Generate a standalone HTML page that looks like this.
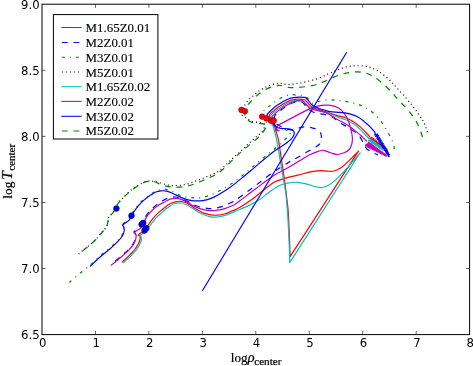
<!DOCTYPE html>
<html><head><meta charset="utf-8"><title>log T center vs log rho center</title>
<style>html,body{margin:0;padding:0;background:#fff}svg{display:block}</style></head>
<body>
<svg width="473" height="366" viewBox="0 0 473 366">
<rect width="473" height="366" fill="#fff"/>
<g fill="none" stroke-width="1.2" stroke-linejoin="round">
<path d="M121.7 262.4C122.5 261.7 125.0 259.6 126.5 258.2C128.0 256.8 129.2 255.6 130.6 254.1C132.0 252.6 133.8 250.7 135.1 249.0C136.4 247.3 137.6 245.4 138.4 243.8C139.2 242.2 139.7 240.7 140.0 239.5C140.3 238.3 140.1 237.1 140.1 236.6C139.9 236.4 139.5 235.8 139.2 235.6C138.8 235.4 138.2 235.3 138.0 235.2C138.5 234.8 139.7 233.8 140.8 233.0C141.9 232.2 143.4 231.8 144.8 230.3C146.2 228.8 147.4 226.0 149.0 223.8C150.6 221.6 152.3 219.2 154.1 217.1C155.9 215.0 158.2 213.1 160.0 211.4C161.8 209.8 163.4 208.5 165.1 207.2C166.8 205.9 168.4 204.7 170.1 203.8C171.8 202.9 173.5 202.2 175.2 201.8C176.9 201.4 178.6 201.2 180.3 201.3C182.0 201.4 183.7 201.8 185.4 202.5C187.1 203.2 188.4 204.0 190.4 205.2C192.4 206.4 194.9 208.4 197.2 209.7C199.5 211.0 201.8 212.2 204.0 213.1C206.2 213.9 208.4 214.5 210.7 214.8C212.9 215.2 215.2 215.3 217.5 215.2C219.8 215.1 222.1 214.6 224.3 214.0C226.6 213.4 228.4 212.5 231.0 211.4C233.6 210.3 236.7 209.1 240.0 207.2C243.3 205.3 247.1 202.9 251.1 200.0C255.1 197.1 260.0 192.8 263.8 189.9C267.6 187.0 270.3 184.3 274.0 182.3C277.7 180.3 281.9 179.3 285.8 178.1C289.8 176.9 293.6 176.2 297.7 175.2C301.8 174.2 306.5 172.7 310.3 171.9C314.1 171.1 317.6 170.7 320.4 170.6C323.2 170.5 324.9 171.1 327.2 171.2C329.5 171.3 331.8 171.5 334.0 171.0C336.2 170.5 338.4 169.6 340.7 168.1C342.9 166.6 345.2 164.2 347.5 162.1C349.8 160.0 352.5 157.2 354.3 155.4C356.1 153.6 357.8 151.8 358.5 151.1L290.1 256.7C290.0 252.9 289.6 241.2 289.3 233.7C289.0 226.2 288.6 217.5 288.2 211.9C287.8 206.3 287.6 205.3 287.0 200.0C286.4 194.7 285.4 186.7 284.5 180.0C283.6 173.3 282.5 166.7 281.5 160.0C280.5 153.3 279.3 144.4 278.5 140.0C277.7 135.6 277.3 135.7 276.6 133.4C275.9 131.1 275.2 128.2 274.3 126.0C273.4 123.8 272.0 121.4 271.5 120.5C271.1 119.5 268.9 116.5 269.4 114.8C269.9 113.1 272.9 111.6 274.7 110.1C276.5 108.6 278.2 107.1 280.0 105.9C281.8 104.7 283.6 103.6 285.3 102.7C287.1 101.8 288.8 101.0 290.5 100.4C292.2 99.8 294.0 99.5 295.8 99.3C297.6 99.1 299.6 99.2 301.1 99.3C302.6 99.4 303.7 99.4 304.8 100.0C305.9 100.6 306.5 101.7 307.5 102.7C308.5 103.7 309.6 105.1 310.6 105.9C311.6 106.8 311.3 106.9 313.5 107.8C315.7 108.7 320.9 110.2 323.7 111.1C326.4 112.0 327.6 112.6 330.0 113.4C332.4 114.2 335.3 115.1 337.9 115.8C340.5 116.5 343.1 116.8 345.7 117.8C348.3 118.8 351.1 120.2 353.6 121.7C356.1 123.2 358.4 125.2 360.5 127.1C362.6 129.0 364.8 131.3 366.4 133.0C368.0 134.7 369.4 136.5 370.0 137.2" stroke="#ff0000"/>
<polyline points="370.0,137.2 370.0,138.8 372.3,137.3 371.5,139.9 373.7,138.5 373.0,141.0 375.2,139.6 374.6,142.0 376.7,140.8 376.1,143.1 378.2,141.9 377.6,144.2 379.6,143.1 379.1,145.3 381.1,144.2 380.7,146.4 382.6,145.4 382.2,147.5 384.1,146.5 383.7,148.5 385.5,147.7 385.2,149.6 387.0,148.8 386.8,150.7 388.0,150.6" stroke="#ff0000"/>
<path d="M110.5 264.8C111.4 264.1 114.2 261.9 116.0 260.5C117.8 259.1 119.7 257.4 121.2 256.1C122.7 254.8 123.7 254.0 125.0 252.8C126.3 251.7 127.5 250.6 128.8 249.2C130.1 247.8 131.9 245.8 133.0 244.1C134.1 242.4 134.8 240.6 135.3 239.0C135.8 237.4 135.8 235.5 135.9 234.8C135.7 234.5 135.2 233.5 134.8 233.0C134.5 232.5 134.0 232.2 133.8 232.0C134.2 231.6 135.3 230.5 136.4 229.7C137.5 228.9 139.4 228.2 140.4 227.2C141.4 226.2 141.3 225.5 142.3 223.5C143.3 221.5 144.7 217.9 146.3 215.4C148.0 212.9 150.1 210.6 152.2 208.5C154.3 206.4 157.1 204.3 159.0 203.0C160.9 201.7 161.8 201.2 163.4 200.4C165.0 199.6 166.6 198.5 168.5 197.9C170.4 197.3 172.8 196.8 175.0 197.0C177.2 197.2 179.7 198.2 182.0 199.1C184.3 199.9 186.6 201.0 188.8 202.1C191.1 203.2 193.2 204.6 195.5 205.5C197.8 206.4 200.1 207.0 202.3 207.5C204.6 208.0 206.8 208.5 209.0 208.6C211.2 208.7 213.5 208.5 215.8 208.1C218.1 207.7 220.3 207.2 222.6 206.4C224.8 205.6 227.1 204.6 229.3 203.5C231.6 202.4 234.4 201.1 236.1 200.1C237.8 199.1 236.1 199.9 239.3 197.5C242.5 195.1 249.9 189.8 255.4 185.7C260.9 181.6 266.7 176.9 272.3 173.0C277.9 169.1 284.8 164.7 289.2 162.0C293.6 159.3 295.3 158.9 298.5 157.1C301.7 155.3 305.5 152.9 308.6 151.1C311.7 149.3 315.1 147.5 317.1 146.1C319.1 144.7 319.7 144.2 320.4 142.7C321.1 141.1 321.4 138.5 321.4 136.8C321.4 135.1 321.1 133.7 320.4 132.5C319.6 131.3 318.3 130.4 316.9 129.6C315.5 128.8 313.6 128.2 312.0 127.8C310.4 127.3 308.7 127.0 307.0 126.9C305.3 126.8 303.7 126.8 302.0 127.1C300.3 127.4 298.8 128.1 297.0 128.6C295.2 129.1 293.0 129.9 291.0 129.8C289.0 129.8 287.0 129.0 285.0 128.3C283.0 127.6 280.6 126.4 279.0 125.5C277.4 124.6 276.4 123.8 275.5 123.0C274.6 122.2 274.1 121.1 273.8 120.7C273.9 119.9 274.0 117.3 274.7 115.9C275.4 114.5 276.9 113.5 278.0 112.5C279.1 111.5 280.3 110.6 281.6 109.6C282.9 108.6 284.5 107.3 286.0 106.3C287.5 105.3 289.0 104.4 290.5 103.7C292.0 103.0 293.5 102.5 295.0 102.2C296.5 101.9 298.2 101.8 299.5 101.8C300.8 101.8 301.6 102.0 302.5 102.5C303.4 103.0 304.1 104.0 305.0 105.0C305.9 106.0 307.0 107.5 308.0 108.5C309.0 109.5 309.5 110.2 311.0 111.0C312.5 111.8 314.7 113.0 316.9 113.5C319.1 114.0 321.6 113.8 324.0 114.3C326.4 114.8 328.9 115.1 331.5 116.5C334.1 117.9 336.8 120.5 339.8 122.5C342.8 124.5 346.6 126.5 349.7 128.6C352.8 130.7 356.1 132.4 358.5 135.0C360.9 137.6 362.5 141.7 363.9 144.1C365.3 146.5 365.6 147.8 367.1 149.2C368.6 150.6 370.9 151.5 372.7 152.5C374.5 153.5 377.1 154.6 378.0 155.0" stroke="#0000ff" stroke-dasharray="5.8 5.8" stroke-dashoffset="5.8"/>
<path d="M69.4 282.5C70.8 281.3 74.7 277.8 77.5 275.4C80.3 273.0 84.1 270.1 86.4 268.2C88.7 266.3 88.9 266.4 91.2 264.3C93.5 262.2 97.3 258.4 100.4 255.7C103.5 253.0 106.9 250.5 109.6 248.2C112.3 245.9 114.5 243.7 116.4 241.8C118.3 239.9 119.7 238.4 120.8 236.9C121.9 235.4 122.6 234.0 123.1 232.7C123.6 231.5 123.7 230.0 123.8 229.4C123.7 228.9 123.6 227.5 123.3 226.6C123.0 225.7 122.1 224.6 121.9 224.2C122.4 223.9 123.7 223.3 124.9 222.4C126.1 221.5 128.0 220.2 129.1 219.0C130.2 217.8 130.8 216.7 131.5 215.4C132.2 214.1 132.3 213.1 133.3 211.4C134.3 209.8 135.9 207.5 137.6 205.5C139.3 203.5 141.4 201.3 143.5 199.5C145.6 197.7 148.2 195.8 150.2 194.5C152.2 193.2 153.6 192.2 155.3 191.4C157.0 190.6 158.6 189.9 160.4 189.6C162.2 189.3 164.2 189.1 166.3 189.4C168.4 189.8 170.8 190.7 173.0 191.7C175.2 192.7 177.5 194.3 179.8 195.2C182.1 196.1 184.3 196.7 186.6 197.1C188.8 197.5 191.1 197.7 193.3 197.8C195.6 197.9 197.8 198.0 200.1 197.7C202.4 197.5 204.7 197.0 206.9 196.3C209.2 195.6 211.3 194.7 213.6 193.7C215.8 192.7 218.1 191.6 220.4 190.3C222.7 189.0 224.9 187.4 227.2 186.1C229.4 184.8 231.5 183.9 233.9 182.2C236.3 180.5 239.1 178.2 241.8 176.0C244.5 173.8 247.4 171.6 250.2 169.2C253.0 166.8 255.9 164.2 258.7 161.8C261.5 159.4 264.7 156.9 267.2 154.8C269.7 152.8 271.8 151.3 273.9 149.5C276.0 147.7 277.9 145.9 279.9 144.2C281.8 142.5 284.0 140.7 285.6 139.1C287.2 137.5 288.6 135.9 289.5 134.7C290.4 133.6 290.5 132.6 290.7 132.2C290.4 132.0 289.8 131.6 289.0 131.2C288.2 130.8 287.1 130.5 286.0 130.0C284.9 129.5 284.1 129.0 282.3 128.3C280.5 127.6 277.4 126.8 275.0 126.0C272.6 125.2 269.8 124.3 268.0 123.3C266.2 122.3 265.0 121.1 264.0 120.0C263.0 118.9 262.3 117.2 262.0 116.6C262.1 115.9 261.9 113.6 262.6 112.3C263.3 111.0 264.8 109.8 266.2 108.5C267.6 107.2 269.6 106.0 271.3 104.7C273.0 103.4 274.3 102.3 276.4 100.9C278.5 99.5 281.4 97.5 283.8 96.5C286.2 95.5 288.4 94.8 290.6 94.6C292.8 94.4 294.9 95.0 297.0 95.2C299.1 95.4 301.3 95.6 303.0 96.0C304.7 96.4 305.8 96.7 307.0 97.5C308.2 98.3 309.1 100.0 310.0 101.0C310.9 102.0 311.4 103.1 312.7 103.2C314.0 103.3 315.9 102.0 318.0 101.5C320.1 101.0 323.1 100.4 325.4 100.1C327.7 99.8 329.8 99.8 332.0 99.9C334.2 100.0 336.7 100.3 338.9 100.5C341.1 100.7 342.8 100.9 345.0 101.3C347.2 101.7 350.2 102.2 352.4 102.7C354.6 103.2 356.0 103.8 358.0 104.5C360.0 105.2 362.3 105.9 364.3 106.9C366.3 107.9 368.1 109.2 370.0 110.5C371.9 111.8 373.7 113.3 375.4 115.0C377.1 116.7 378.9 118.8 380.4 120.7C381.9 122.6 383.0 124.4 384.3 126.4C385.6 128.4 387.0 130.8 388.1 132.8C389.2 134.8 390.3 136.5 391.2 138.5C392.1 140.5 393.1 142.9 393.6 144.8C394.1 146.7 394.3 149.1 394.4 149.9" stroke="#008000" stroke-dasharray="3 5 1 5"/>
<path d="M78.7 254.0C79.6 253.2 82.2 250.9 84.0 249.5C85.8 248.1 87.6 246.7 89.2 245.4C90.8 244.1 92.0 242.9 93.5 241.5C95.0 240.1 96.7 238.6 98.0 237.1C99.3 235.6 100.5 233.9 101.6 232.6C102.7 231.3 103.9 230.4 104.8 229.2C105.7 228.0 106.5 226.8 107.0 225.4C107.5 224.0 107.8 221.9 108.1 220.5C108.4 219.1 108.3 217.8 108.8 216.8C109.3 215.8 110.4 215.2 111.2 214.3C112.0 213.4 113.0 212.6 113.8 211.2C114.6 209.8 115.4 207.5 116.3 206.0C117.2 204.5 118.0 203.2 119.0 202.0C120.0 200.8 120.9 200.0 122.0 198.9C123.1 197.8 124.3 196.4 125.4 195.3C126.5 194.2 127.7 193.1 128.8 192.1C129.9 191.1 130.9 190.3 132.0 189.5C133.1 188.7 134.3 187.9 135.5 187.1C136.7 186.3 137.9 185.5 139.0 184.8C140.1 184.1 141.2 183.4 142.3 182.9C143.4 182.4 144.4 181.9 145.5 181.6C146.6 181.3 147.8 181.2 149.0 181.1C150.2 181.0 151.4 181.1 152.5 181.2C153.6 181.3 154.6 181.6 155.8 181.8C157.1 182.1 157.9 182.1 160.0 182.7C162.1 183.3 165.7 184.7 168.5 185.2C171.3 185.7 174.1 185.7 176.9 185.6C179.7 185.5 182.6 185.0 185.4 184.4C188.2 183.8 191.0 182.8 193.8 181.8C196.6 180.8 199.5 179.6 202.3 178.5C205.1 177.4 208.0 176.3 210.7 175.1C213.4 173.9 215.9 173.0 218.4 171.4C220.9 169.8 223.1 167.4 225.4 165.3C227.7 163.2 230.2 160.6 232.4 158.6C234.6 156.6 236.7 154.7 238.5 153.1C240.3 151.5 242.0 150.1 243.4 148.8C244.8 147.5 245.8 146.3 247.1 145.1C248.4 143.9 250.1 142.6 251.4 141.4C252.7 140.2 253.9 138.8 255.1 137.7C256.3 136.6 257.7 135.7 258.8 134.7C259.9 133.7 261.1 132.5 261.9 131.6C262.7 130.7 263.2 130.1 263.7 129.1C264.1 128.1 264.7 126.8 264.6 125.8C264.5 124.8 264.2 123.7 263.1 123.2C262.0 122.7 260.1 122.9 258.2 122.6C256.2 122.2 253.2 121.8 251.4 121.1C249.7 120.4 248.8 119.4 247.7 118.7C246.6 118.0 245.6 117.4 244.7 116.8C243.8 116.2 242.9 116.1 242.2 115.3C241.5 114.5 240.7 112.9 240.6 112.0C240.5 111.1 240.8 110.9 241.5 109.8C242.2 108.7 243.6 106.8 244.7 105.3C245.8 103.8 246.8 101.9 247.9 100.6C249.0 99.3 249.9 98.6 251.0 97.7C252.1 96.8 252.9 96.3 254.2 95.3C255.4 94.2 256.4 92.9 258.5 91.4C260.6 89.9 264.1 87.7 266.9 86.4C269.7 85.1 273.1 84.3 275.4 83.8C277.6 83.3 278.4 83.2 280.4 83.3C282.4 83.4 284.6 84.4 287.2 84.5C289.8 84.6 292.6 84.2 295.7 83.8C298.8 83.3 302.1 82.7 305.8 81.8C309.5 80.9 313.9 79.9 317.7 78.6C321.5 77.3 325.3 75.2 328.5 73.8C331.7 72.4 334.1 71.2 336.9 70.1C339.7 69.0 342.6 67.8 345.4 67.1C348.2 66.4 351.0 66.1 353.8 65.9C356.6 65.7 359.5 65.7 362.3 65.9C365.1 66.2 368.2 66.6 370.7 67.4C373.2 68.2 375.2 69.5 377.5 70.8C379.8 72.1 382.1 73.7 384.3 75.5C386.6 77.3 389.0 79.4 391.0 81.4C393.0 83.4 394.1 84.9 396.4 87.4C398.7 89.9 401.9 93.3 404.6 96.4C407.3 99.5 410.4 103.1 412.8 106.2C415.2 109.3 417.4 112.3 419.3 115.2C421.2 118.1 422.9 120.5 424.3 123.4C425.7 126.3 427.0 131.0 427.5 132.5" stroke="#000000" stroke-dasharray="1 3"/>
<path d="M123.0 263.1C123.8 262.4 126.3 260.3 127.8 258.9C129.3 257.5 130.5 256.3 131.9 254.8C133.3 253.3 135.1 251.4 136.4 249.7C137.7 248.0 138.9 246.1 139.7 244.5C140.5 242.9 141.0 241.4 141.3 240.2C141.6 239.0 141.4 237.8 141.4 237.3C141.2 237.1 140.8 236.5 140.5 236.3C140.2 236.1 139.5 236.0 139.3 235.9L139.3 235.9C139.8 235.6 140.9 234.8 142.0 234.0C143.1 233.2 144.6 232.8 146.0 231.3C147.4 229.8 148.9 227.0 150.5 224.8C152.1 222.6 154.0 220.1 155.6 218.3C157.2 216.6 158.4 215.7 160.0 214.3C161.6 212.9 163.4 211.1 165.1 209.7C166.8 208.3 168.4 206.9 170.1 205.9C171.8 204.9 173.5 204.0 175.2 203.5C176.9 203.0 178.6 202.9 180.3 203.0C182.0 203.1 183.7 203.5 185.4 204.2C187.1 204.8 188.4 205.7 190.4 206.9C192.4 208.1 194.9 210.1 197.2 211.4C199.5 212.7 201.8 213.9 204.0 214.8C206.2 215.7 208.4 216.4 210.7 216.8C212.9 217.2 215.2 217.2 217.5 217.0C219.8 216.8 222.1 216.3 224.3 215.7C226.6 215.0 228.4 214.2 231.0 213.1C233.6 212.0 236.8 210.5 240.0 209.2C243.2 207.8 246.7 206.6 250.0 205.0C253.3 203.4 256.5 201.7 259.6 199.6C262.8 197.5 265.7 194.7 268.9 192.4C272.1 190.1 275.9 187.2 279.0 185.7C282.1 184.1 284.4 183.7 287.5 183.1C290.6 182.5 294.5 182.1 297.7 182.3C300.9 182.5 303.9 183.4 306.9 184.1C309.8 184.8 312.9 186.1 315.4 186.7C317.9 187.3 319.9 187.8 322.1 187.5C324.4 187.2 326.6 186.3 328.9 185.0C331.2 183.7 333.4 181.9 335.7 179.9C337.9 177.9 339.9 175.8 342.4 173.1C344.9 170.4 347.9 167.2 350.9 163.8C353.9 160.4 358.6 154.6 360.2 152.8L289.7 262.6C289.6 259.6 289.5 252.0 289.2 244.6C288.9 237.2 288.4 226.1 287.9 218.4C287.4 210.8 286.8 203.4 286.4 198.7C286.0 194.0 286.2 195.6 285.3 190.0C284.4 184.4 282.4 173.3 281.0 165.0C279.6 156.7 277.8 145.7 276.7 140.0C275.6 134.3 275.2 133.7 274.5 131.0C273.8 128.3 272.7 125.2 272.3 124.0C272.1 122.6 270.3 117.6 271.0 115.4C271.7 113.2 274.5 112.0 276.3 110.6C278.1 109.1 279.9 107.9 281.6 106.7C283.4 105.5 285.1 104.4 286.8 103.5C288.6 102.6 290.4 101.9 292.1 101.4C293.8 100.9 295.2 100.5 296.9 100.4C298.6 100.3 301.0 100.3 302.2 100.6C303.4 100.9 303.5 101.5 304.3 102.2C305.1 102.9 306.0 104.1 307.0 105.0C308.0 105.9 308.9 106.9 310.5 107.8C312.1 108.7 314.7 109.6 316.9 110.3C319.1 111.0 321.3 111.4 323.5 112.0C325.7 112.6 327.6 112.9 330.0 113.8C332.4 114.7 335.3 116.3 337.9 117.3C340.5 118.3 343.1 118.6 345.7 119.7C348.3 120.8 351.1 122.1 353.6 123.7C356.1 125.3 358.5 127.7 360.5 129.6C362.5 131.5 364.0 133.5 365.4 135.0C366.8 136.5 368.4 138.0 369.0 138.6" stroke="#00bfbf"/>
<polyline points="369.0,139.4 368.7,141.1 371.2,139.1 370.1,142.0 372.5,140.2 371.5,142.9 373.8,141.2 372.8,143.8 375.0,142.2 374.2,144.7 376.3,143.3 375.6,145.6 377.6,144.3 376.9,146.5 378.8,145.3 378.3,147.4 380.1,146.3 379.7,148.3 381.4,147.4 381.0,149.2 382.6,148.4 382.4,150.1 383.5,150.0" stroke="#00bfbf"/>
<path d="M110.8 265.4C111.7 264.7 114.5 262.6 116.3 261.1C118.1 259.7 120.0 258.0 121.5 256.7C123.0 255.4 124.0 254.6 125.3 253.4C126.6 252.2 127.8 251.2 129.1 249.8C130.4 248.3 132.2 246.4 133.3 244.7C134.4 243.0 135.1 241.1 135.6 239.6C136.1 238.1 136.1 236.1 136.2 235.4L136.2 235.4C136.0 235.1 135.5 234.2 135.2 233.8C134.9 233.4 134.5 233.0 134.3 232.8C134.7 232.4 135.7 231.3 136.8 230.5C137.9 229.7 139.7 229.1 140.8 228.1C141.9 227.1 142.2 226.2 143.2 224.3C144.2 222.4 145.3 218.8 146.9 216.4C148.5 214.0 150.7 211.7 152.8 209.7C154.9 207.7 157.6 205.9 159.6 204.6C161.6 203.3 163.3 202.7 165.1 201.8C166.8 200.9 168.4 199.7 170.1 199.1C171.8 198.5 173.5 198.4 175.2 198.4C176.9 198.4 178.3 198.5 180.3 199.1C182.3 199.7 184.8 201.0 187.1 202.1C189.3 203.2 191.6 204.8 193.8 205.9C196.1 207.0 198.3 208.2 200.6 208.9C202.9 209.6 205.2 210.0 207.4 210.3C209.7 210.6 211.8 210.7 214.1 210.6C216.3 210.5 218.6 210.2 220.9 209.7C223.2 209.2 225.4 208.3 227.7 207.5C229.9 206.7 232.3 205.8 234.4 204.7C236.5 203.5 236.6 203.2 240.1 200.6C243.6 198.0 250.0 193.0 255.4 189.0C260.8 185.0 266.7 180.1 272.3 176.4C277.9 172.8 284.6 169.8 289.2 167.1C293.8 164.4 296.6 162.5 300.1 160.4C303.6 158.3 307.2 156.1 310.3 154.5C313.4 152.9 316.6 151.8 318.8 151.1C321.1 150.4 321.8 150.0 323.8 150.3C325.8 150.6 328.3 152.1 330.6 152.8C332.9 153.5 335.1 154.5 337.4 154.5C339.6 154.5 342.1 153.6 344.1 152.8C346.1 152.0 347.9 150.9 349.2 149.5C350.5 148.1 351.2 146.2 351.7 144.4C352.2 142.7 352.4 140.7 352.4 139.0C352.4 137.3 352.2 135.7 351.9 134.0C351.6 132.3 351.3 131.2 350.7 128.9C350.1 126.6 349.3 123.0 348.2 120.4C347.1 117.8 345.6 115.3 344.0 113.2C342.4 111.1 340.8 109.3 338.6 108.0C336.4 106.7 333.5 105.7 330.6 105.3C327.8 104.9 324.6 105.0 321.5 105.4C318.4 105.8 315.5 106.5 311.9 107.9C308.3 109.3 302.0 112.6 300.0 113.6L277.9 125.4C277.5 126.0 275.8 128.0 275.6 128.8C275.5 129.6 276.4 130.1 277.0 130.4C277.6 130.7 278.8 130.7 279.2 130.8C278.8 130.5 277.5 130.1 276.8 129.0C276.1 127.9 275.4 125.7 274.8 124.3C274.2 122.9 273.4 121.9 273.0 120.7C272.6 119.5 272.3 117.6 272.2 117.0C272.3 116.8 271.7 116.9 272.6 115.9C273.6 114.9 276.1 112.5 277.9 111.1C279.6 109.7 281.4 108.5 283.1 107.4C284.9 106.3 286.6 105.2 288.4 104.3C290.2 103.4 291.9 102.4 293.7 101.8C295.5 101.2 297.5 100.9 299.0 100.8C300.5 100.7 301.7 100.7 302.7 101.1C303.7 101.5 304.0 102.4 304.8 103.2C305.6 104.0 306.6 105.0 307.5 105.9C308.4 106.8 308.9 107.8 310.1 108.5C311.4 109.2 313.0 109.3 315.0 109.8C317.0 110.3 319.5 110.7 322.0 111.5C324.5 112.3 327.7 113.6 330.0 114.8C332.3 116.0 333.8 117.6 335.9 118.8C338.0 120.0 340.5 120.9 342.8 122.2C345.1 123.5 347.6 125.1 349.7 126.6C351.8 128.1 353.6 129.5 355.6 131.1C357.6 132.7 360.0 134.7 361.5 136.0C363.0 137.3 363.5 138.0 364.4 138.9C365.3 139.8 366.6 140.9 367.0 141.3" stroke="#bf00bf"/>
<polyline points="366.4,143.6 365.7,146.2 369.0,142.3 367.1,146.8 370.2,143.2 368.4,147.5 371.4,144.0 369.8,148.1 372.6,144.9 371.1,148.8 373.8,145.8 372.4,149.5 375.0,146.7 373.8,150.1 376.2,147.6 375.1,150.8 377.4,148.5 376.5,151.5 378.6,149.4 377.8,152.1 379.8,150.2 379.2,152.8 381.0,151.1 380.5,153.4 382.2,152.0 381.8,154.1 383.4,152.9 383.2,154.8 384.6,153.8 384.5,155.4 385.9,154.7 385.9,156.1 386.8,156.0" stroke="#bf00bf" stroke-width="1.3"/>
<path d="M90.0 266.6C90.3 266.3 89.9 266.6 91.7 264.9C93.5 263.2 97.8 259.0 100.9 256.3C104.0 253.6 107.4 251.1 110.1 248.8C112.8 246.5 115.0 244.3 116.9 242.4C118.8 240.5 120.2 239.0 121.3 237.5C122.4 236.0 123.1 234.6 123.6 233.3C124.1 232.1 124.2 230.6 124.3 230.0C124.2 229.5 124.1 228.1 123.8 227.2C123.5 226.3 122.6 225.2 122.4 224.8C122.9 224.5 124.2 223.9 125.4 223.0C126.6 222.1 128.5 220.8 129.6 219.6C130.7 218.4 131.3 217.3 132.0 216.0C132.7 214.7 132.8 213.7 133.8 212.0C134.8 210.3 136.4 208.1 138.1 206.1C139.8 204.1 141.9 201.9 144.0 200.1C146.1 198.3 148.7 196.4 150.7 195.1C152.7 193.8 154.1 192.7 155.8 192.0C157.5 191.3 159.1 191.0 160.9 190.8C162.7 190.7 164.7 190.6 166.8 191.1C168.9 191.6 171.2 192.7 173.5 193.7C175.8 194.7 178.0 196.1 180.3 197.1C182.6 198.1 184.8 199.0 187.1 199.6C189.3 200.2 191.6 200.6 193.8 200.8C196.1 201.0 198.3 201.0 200.6 200.8C202.9 200.6 205.2 200.2 207.4 199.6C209.7 199.0 211.8 198.1 214.1 197.1C216.3 196.1 218.6 194.7 220.9 193.3C223.2 191.9 225.4 190.4 227.7 188.9C229.9 187.4 232.0 186.0 234.4 184.1C236.8 182.2 239.6 179.8 242.3 177.6C245.0 175.4 247.9 173.2 250.7 170.8C253.5 168.4 256.4 165.8 259.2 163.4C262.0 161.0 265.2 158.5 267.7 156.4C270.2 154.3 272.4 152.6 274.4 151.1C276.4 149.6 278.0 148.7 279.6 147.6C281.2 146.5 282.7 145.6 284.0 144.7C285.3 143.8 286.4 143.0 287.5 142.2C288.6 141.4 289.7 140.6 290.6 139.7C291.6 138.8 292.6 137.5 293.2 136.5C293.8 135.5 294.2 134.1 294.4 133.6C294.3 133.2 294.0 131.9 293.7 131.3C293.4 130.8 293.2 130.7 292.6 130.3C292.0 130.0 291.3 129.5 290.0 129.2C288.7 128.9 286.4 128.6 284.9 128.5C283.3 128.4 282.0 128.7 280.7 128.5C279.4 128.3 278.2 128.1 277.3 127.6C276.4 127.1 275.8 126.4 275.2 125.7C274.6 125.0 274.2 124.4 273.5 123.6C272.8 122.8 271.9 121.9 271.0 121.0C270.1 120.1 268.7 118.5 268.2 118.0C268.1 117.4 266.6 115.8 267.3 114.3C268.0 112.8 270.8 110.6 272.6 109.0C274.4 107.4 276.1 106.0 277.9 104.8C279.6 103.6 281.4 102.6 283.1 101.6C284.9 100.6 286.6 99.7 288.4 99.0C290.2 98.3 291.9 97.9 293.7 97.6C295.5 97.3 297.1 97.2 299.0 97.2C300.9 97.2 304.2 97.4 305.3 97.4C305.8 97.9 307.5 99.4 308.5 100.6C309.5 101.8 310.1 103.2 311.2 104.3C312.3 105.3 313.7 106.2 315.2 106.9C316.7 107.7 318.3 108.2 320.0 108.8C321.7 109.4 323.7 109.8 325.4 110.3C327.1 110.8 327.6 111.3 330.0 111.7C332.4 112.1 336.5 112.1 339.8 112.4C343.1 112.8 346.7 113.1 349.7 113.8C352.7 114.5 355.2 115.5 357.6 116.8C360.1 118.1 362.3 120.0 364.4 121.7C366.5 123.4 368.8 125.5 370.4 127.1C372.0 128.7 373.1 130.0 374.0 131.1C374.9 132.2 375.2 133.0 375.5 133.4" stroke="#0000ff"/>
<polyline points="375.5,133.4 374.6,135.0 377.8,134.1 375.6,136.5 378.7,135.7 376.6,138.1 379.6,137.3 377.5,139.6 380.5,138.8 378.5,141.1 381.4,140.4 379.5,142.6 382.3,142.0 380.4,144.2 383.2,143.5 381.4,145.7 384.2,145.1 382.4,147.2 385.1,146.6 383.3,148.8 386.0,148.2 384.3,150.3 386.9,149.8 385.3,151.8 387.8,151.3 386.2,153.3 388.7,152.9 387.2,154.9 389.6,154.5 388.2,156.4 389.6,156.6" stroke="#0000ff" stroke-width="1.2"/>
<path d="M78.7 254.3C79.6 253.6 82.2 251.2 84.0 249.8C85.8 248.4 87.6 247.0 89.2 245.7C90.8 244.4 92.0 243.2 93.5 241.8C95.0 240.4 96.7 238.9 98.0 237.4C99.3 235.9 100.5 234.2 101.6 232.9C102.7 231.6 103.9 230.7 104.8 229.5C105.7 228.3 106.5 227.2 107.0 225.7C107.5 224.3 107.8 222.2 108.1 220.8C108.4 219.4 108.3 218.1 108.8 217.1C109.3 216.1 110.4 215.5 111.2 214.6C112.0 213.7 113.0 212.9 113.8 211.5C114.6 210.1 115.4 207.8 116.3 206.3C117.2 204.8 118.0 203.5 119.0 202.3C120.0 201.1 120.9 200.3 122.0 199.2C123.1 198.1 124.3 196.7 125.4 195.6C126.5 194.5 127.7 193.4 128.8 192.4C129.9 191.4 130.9 190.6 132.0 189.8C133.1 189.0 134.3 188.2 135.5 187.4C136.7 186.6 137.9 185.8 139.0 185.1C140.1 184.4 141.2 183.7 142.3 183.2C143.4 182.7 144.4 182.2 145.5 181.9C146.6 181.6 147.8 181.5 149.0 181.4C150.2 181.3 151.4 181.4 152.5 181.5C153.6 181.6 154.6 181.7 155.8 182.1C157.1 182.6 157.9 183.4 160.0 184.2C162.1 184.9 165.7 186.1 168.5 186.6C171.3 187.1 174.1 187.3 176.9 187.3C179.7 187.3 182.6 186.9 185.4 186.4C188.2 185.9 191.0 185.1 193.8 184.2C196.6 183.3 199.5 182.0 202.3 180.8C205.1 179.6 208.0 178.4 210.7 177.1C213.4 175.8 215.9 174.7 218.4 173.0C220.9 171.3 222.7 169.5 225.4 167.0C228.1 164.5 231.9 160.5 234.8 157.8C237.7 155.1 240.0 153.0 242.8 150.6C245.6 148.2 248.5 145.8 251.4 143.3C254.3 140.9 257.6 138.4 260.0 135.9C262.4 133.4 264.3 130.2 265.5 128.5C266.7 126.8 267.2 126.3 267.2 125.6C267.2 124.9 267.0 124.6 265.5 124.2C264.0 123.8 260.5 123.7 258.2 123.4C255.9 123.1 253.3 122.8 251.5 122.2C249.7 121.6 248.1 120.6 247.1 119.6C246.1 118.6 245.7 117.4 245.3 116.0C244.9 114.6 244.6 112.7 244.9 111.0C245.2 109.3 245.9 107.7 247.0 106.0C248.1 104.3 249.6 102.8 251.5 100.8C253.4 98.8 255.9 96.2 258.5 94.2C261.1 92.2 264.1 90.3 266.9 88.9C269.7 87.5 273.0 86.5 275.4 85.9C277.8 85.3 279.1 85.2 281.3 85.5C283.6 85.8 286.2 87.2 288.9 87.5C291.6 87.8 294.3 87.7 297.4 87.5C300.5 87.3 304.1 87.0 307.5 86.4C310.9 85.9 315.1 85.0 317.7 84.2C320.3 83.5 321.0 82.9 323.4 81.9C325.8 80.9 329.0 79.3 331.8 78.1C334.6 76.9 337.5 75.6 340.3 74.7C343.1 73.8 346.0 73.1 348.8 72.6C351.6 72.1 354.4 71.7 357.2 71.8C360.0 71.9 363.2 72.3 365.7 73.0C368.2 73.7 370.1 74.6 372.4 75.9C374.6 77.2 376.9 78.8 379.2 80.6C381.5 82.4 383.8 84.4 386.0 86.5C388.2 88.6 390.9 91.4 392.7 93.3C394.5 95.2 394.6 95.8 396.6 98.0C398.6 100.2 402.0 103.5 404.6 106.4C407.2 109.3 409.8 112.2 412.0 115.2C414.2 118.2 416.2 121.4 417.7 124.3C419.2 127.2 420.2 130.3 421.0 132.5C421.8 134.7 422.3 136.6 422.6 137.4" stroke="#008000" stroke-dasharray="5.8 5.8" stroke-dashoffset="6"/>
<path d="M202.4 290.7L346.7 52.2" stroke="#0000ff"/>
</g>
<g stroke="#000" stroke-width="0.4">
<circle cx="116.4" cy="208.5" r="2.95" fill="#0000ff"/>
<circle cx="131.5" cy="215.7" r="2.95" fill="#0000ff"/>
<circle cx="141.6" cy="224.4" r="2.95" fill="#0000ff"/>
<circle cx="143.2" cy="222.9" r="2.95" fill="#0000ff"/>
<circle cx="144.5" cy="230.5" r="2.95" fill="#0000ff"/>
<circle cx="146.2" cy="228.3" r="2.95" fill="#0000ff"/>
<circle cx="241.5" cy="109.9" r="2.9" fill="#ff0000"/>
<circle cx="244.9" cy="111.1" r="2.9" fill="#ff0000"/>
<circle cx="262.1" cy="116.6" r="2.9" fill="#ff0000"/>
<circle cx="266.4" cy="118.4" r="2.9" fill="#ff0000"/>
<circle cx="270.8" cy="120.6" r="2.9" fill="#ff0000"/>
<circle cx="273.7" cy="120.6" r="2.9" fill="#ff0000"/>
</g>
<g stroke="#000" stroke-width="1" fill="none">
<rect x="42.0" y="4.2" width="427.6" height="330.4"/>
<path d="M95.5 334.6v-3.6M95.5 4.2v3.6M148.9 334.6v-3.6M148.9 4.2v3.6M202.4 334.6v-3.6M202.4 4.2v3.6M255.8 334.6v-3.6M255.8 4.2v3.6M309.3 334.6v-3.6M309.3 4.2v3.6M362.7 334.6v-3.6M362.7 4.2v3.6M416.2 334.6v-3.6M416.2 4.2v3.6M42.0 268.5h3.6M469.6 268.5h-3.6M42.0 202.5h3.6M469.6 202.5h-3.6M42.0 136.4h3.6M469.6 136.4h-3.6M42.0 70.3h3.6M469.6 70.3h-3.6" stroke-width="0.6"/>
</g>
<g font-family="'DejaVu Sans', 'Liberation Sans', sans-serif" font-size="11.7px" fill="#000">
<text x="42.7" y="347.3" text-anchor="middle">0</text>
<text x="96.2" y="347.3" text-anchor="middle">1</text>
<text x="149.6" y="347.3" text-anchor="middle">2</text>
<text x="203.1" y="347.3" text-anchor="middle">3</text>
<text x="256.5" y="347.3" text-anchor="middle">4</text>
<text x="310.0" y="347.3" text-anchor="middle">5</text>
<text x="363.4" y="347.3" text-anchor="middle">6</text>
<text x="416.9" y="347.3" text-anchor="middle">7</text>
<text x="470.3" y="347.3" text-anchor="middle">8</text>
<text x="39.7" y="339.0" text-anchor="end">6.5</text>
<text x="39.7" y="272.9" text-anchor="end">7.0</text>
<text x="39.7" y="206.9" text-anchor="end">7.5</text>
<text x="39.7" y="140.8" text-anchor="end">8.0</text>
<text x="39.7" y="74.7" text-anchor="end">8.5</text>
<text x="39.7" y="8.7" text-anchor="end">9.0</text>
</g>
<rect x="53.4" y="14.6" width="104.5" height="124.4" fill="#fff" stroke="#000" stroke-width="1"/>
<g font-family="'Liberation Serif', 'DejaVu Serif', serif" font-size="13.4px" fill="#000" stroke="#000" stroke-width="0.12">
<path d="M61.3 27.5H81.7" stroke="#ff0000" stroke-width="1.05" fill="none"/>
<text x="85.6" y="31.9" textLength="64.6" lengthAdjust="spacingAndGlyphs">M1.65Z0.01</text>
<path d="M61.9 42.4H81.7" stroke="#0000ff" stroke-width="1.05" fill="none" stroke-dasharray="5.8 5.8"/>
<text x="85.6" y="46.9" textLength="48.4" lengthAdjust="spacingAndGlyphs">M2Z0.01</text>
<path d="M61.9 57.2H81.7" stroke="#008000" stroke-width="1.05" fill="none" stroke-dasharray="3 5 1 5"/>
<text x="85.6" y="61.7" textLength="48.4" lengthAdjust="spacingAndGlyphs">M3Z0.01</text>
<path d="M61.9 72.0H81.7" stroke="#000" stroke-width="1.05" fill="none" stroke-dasharray="1 3"/>
<text x="85.6" y="76.5" textLength="48.4" lengthAdjust="spacingAndGlyphs">M5Z0.01</text>
<path d="M61.3 86.7H81.7" stroke="#00bfbf" stroke-width="1.05" fill="none"/>
<text x="85.6" y="91.2" textLength="64.6" lengthAdjust="spacingAndGlyphs">M1.65Z0.02</text>
<path d="M61.3 101.4H81.7" stroke="#bf00bf" stroke-width="1.05" fill="none"/>
<text x="85.6" y="105.9" textLength="48.4" lengthAdjust="spacingAndGlyphs">M2Z0.02</text>
<path d="M61.3 116.3H81.7" stroke="#0000ff" stroke-width="1.05" fill="none"/>
<text x="85.6" y="120.8" textLength="48.4" lengthAdjust="spacingAndGlyphs">M3Z0.02</text>
<path d="M61.9 130.9H81.7" stroke="#008000" stroke-width="1.05" fill="none" stroke-dasharray="5.8 5.8"/>
<text x="85.6" y="135.3" textLength="48.4" lengthAdjust="spacingAndGlyphs">M5Z0.02</text>
</g>
<g font-family="'Liberation Serif', 'DejaVu Serif', serif" fill="#000" stroke="#000" stroke-width="0.2">
<text x="230.8" y="362.3" font-size="13.2px" textLength="16.8" lengthAdjust="spacingAndGlyphs">log</text>
<text x="247.8" y="362.3" font-size="14.2px" font-style="italic">ρ</text>
<text x="254.2" y="364.8" font-size="9.8px" textLength="27.2" lengthAdjust="spacingAndGlyphs">center</text>
<g transform="translate(12.2,198.4) rotate(-90)">
<text x="-0.3" y="0" font-size="13.2px" textLength="17.2" lengthAdjust="spacingAndGlyphs">log</text>
<text x="18.7" y="0" font-size="13.6px" font-style="italic" textLength="8.6" lengthAdjust="spacingAndGlyphs">T</text>
<text x="27.6" y="2.6" font-size="9.8px" textLength="27" lengthAdjust="spacingAndGlyphs">center</text>
</g>
</g>
</svg>
</body></html>
